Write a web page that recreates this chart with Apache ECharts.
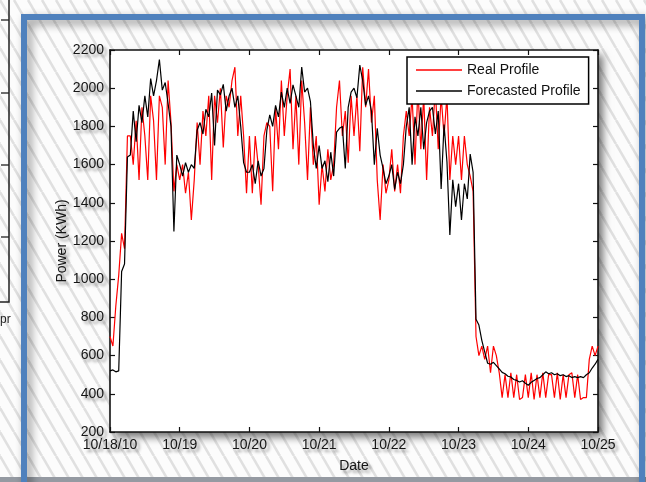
<!DOCTYPE html>
<html>
<head>
<meta charset="utf-8">
<script src="https://cdn.jsdelivr.net/npm/echarts/dist/echarts.min.js"></script>
<style>
html,body{margin:0;padding:0;background:#fff;}
#chart{width:646px;height:482px;}
</style>
</head>
<body>
<div id="chart"></div>
<script>
// Date axis tick labels, one per midnight
const dateTicks = ['10/18/10', '10/19', '10/20', '10/21', '10/22', '10/23', '10/24', '10/25'];
const powerMin = 200, powerMax = 2200, powerStep = 200;

// Measured load (KWh), hourly, one array per day (hours 0..23)
const real18 = [700, 650, 860, 1020, 1240, 1160, 1750, 1750, 1600, 1830, 1520, 1900, 1750, 1520, 1960, 1830, 1520, 1960, 1900, 1600, 2040, 1820, 1460, 1600];
const real19 = [1520, 1600, 1450, 1560, 1310, 1520, 1820, 1600, 1880, 1750, 1960, 1520, 1960, 1820, 2000, 1690, 1960, 1900, 2040, 2110, 1750, 1960, 1750, 1450];
const real20 = [1750, 1450, 1750, 1600, 1390, 1750, 1820, 1800, 1460, 1900, 1680, 2040, 1750, 1960, 2100, 1680, 1960, 1600, 2040, 1820, 1520, 1900, 1600, 1750];
const real21 = [1390, 1600, 1460, 1680, 1520, 1600, 1900, 2040, 1750, 1880, 1610, 1960, 1750, 1960, 1670, 2110, 1900, 2100, 1820, 1960, 1520, 1310, 1600, 1450];
const real22 = [1520, 1680, 1460, 1600, 1450, 1750, 1880, 1750, 1960, 1600, 2000, 1680, 1960, 1520, 1900, 1750, 2000, 1680, 1960, 1750, 1960, 1520, 1750, 1600];
const real23 = [1750, 1520, 1750, 1600, 1540, 1460, 700, 600, 650, 580, 650, 510, 650, 600, 510, 380, 500, 380, 510, 380, 500, 370, 380, 500];
const real24 = [380, 510, 370, 500, 380, 510, 380, 500, 500, 380, 510, 370, 500, 380, 500, 510, 380, 500, 370, 380, 380, 580, 650, 600];
const realEnd = 650;

// Forecasted load (KWh), hourly, one array per day (hours 0..23)
const forecast18 = [520, 525, 515, 520, 1040, 1080, 1640, 1650, 1880, 1720, 1910, 1820, 1960, 1850, 2050, 1960, 2040, 2150, 1990, 2030, 1920, 1800, 1250, 1650];
const forecast19 = [1600, 1540, 1610, 1560, 1600, 1580, 1780, 1820, 1760, 1890, 1850, 1975, 1700, 1990, 1965, 2020, 1880, 1960, 2000, 1900, 1960, 1800, 1610, 1560];
const forecast20 = [1560, 1600, 1500, 1620, 1540, 1580, 1780, 1860, 1800, 1910, 1850, 1980, 1900, 2000, 1920, 2017, 1960, 1900, 2111, 1980, 2000, 1930, 1700, 1580];
const forecast21 = [1700, 1580, 1620, 1510, 1665, 1540, 1770, 1790, 1800, 1580, 1900, 1980, 2000, 1950, 2121, 2040, 1910, 1960, 1880, 1600, 1790, 1650, 1580, 1500];
const forecast22 = [1540, 1600, 1470, 1560, 1500, 1600, 1800, 1900, 1600, 1850, 1750, 1900, 1680, 1820, 1880, 1900, 1760, 1880, 1472, 1810, 1615, 1231, 1520, 1380];
const forecast23 = [1500, 1310, 1500, 1420, 1655, 1560, 790, 760, 680, 620, 560, 555, 565, 548, 530, 512, 505, 492, 488, 475, 470, 462, 468, 455];
const forecast24 = [445, 460, 470, 480, 485, 500, 515, 505, 510, 500, 505, 495, 500, 490, 495, 485, 490, 485, 490, 485, 500, 510, 535, 555];
const forecastEnd = 580;

const realLoad = [].concat(real18, real19, real20, real21, real22, real23, real24, [realEnd]);
const forecastLoad = [].concat(forecast18, forecast19, forecast20, forecast21, forecast22, forecast23, forecast24, [forecastEnd]);
const hourMax = 24 * (dateTicks.length - 1);
const toPoints = arr => arr.map((v, h) => [h, v]);

const FONT = '"Liberation Sans", Arial, Helvetica, sans-serif';
const shadowText = {
  fontFamily: FONT, fontSize: 14, color: '#161616',
  textShadowColor: 'rgba(0,0,0,0.42)', textShadowBlur: 3,
  textShadowOffsetX: 3, textShadowOffsetY: 3
};
const axisLine = { show: true, onZero: false, lineStyle: { color: '#111', width: 1.6 } };
const axisTick = { show: true, inside: true, length: 5, lineStyle: { color: '#111', width: 1.2 } };

// Diagonal hatch used for the slide background
function hatchTile() {
  const w = 14, h = 24;
  const c = document.createElement('canvas');
  c.width = w; c.height = h;
  const g = c.getContext('2d');
  g.fillStyle = '#fcfcfc';
  g.fillRect(0, 0, w, h);
  g.strokeStyle = '#e0e0e0';
  g.lineWidth = 2.6;
  for (const k of [-1, 0, 1]) {
    g.beginPath();
    g.moveTo(k * w, 0);
    g.lineTo(k * w + w, h);
    g.stroke();
  }
  return c;
}

// Edge of the neighbouring plot on the left
const sideTicks = [20, 93, 165, 237].map(y => ({
  type: 'line', z: -90, silent: true,
  shape: { x1: 1, y1: y, x2: 9, y2: y },
  style: { stroke: '#222', lineWidth: 1.3 }
}));

const chart = echarts.init(document.getElementById('chart'), null, { renderer: 'canvas' });
chart.setOption({
  animation: false,
  backgroundColor: '#fff',
  graphic: [
    { type: 'rect', z: -100, silent: true, shape: { x: 0, y: 0, width: 646, height: 482 },
      style: { fill: { image: hatchTile(), repeat: 'repeat' } } },
    { type: 'polyline', z: -90, silent: true, shape: { points: [[9, 0], [9, 302], [0, 302]] },
      style: { stroke: '#222', lineWidth: 1.5, fill: 'none' } },
    ...sideTicks,
    { type: 'text', z: -90, silent: true,
      style: { text: 'Apr', x: -8, y: 320, font: '12px ' + FONT, fill: '#222', verticalAlign: 'middle' } },
    { type: 'rect', z: -88, silent: true, shape: { x: 0, y: 477, width: 646, height: 5 },
      style: { fill: '#959aa2' } },
    { type: 'rect', z: -80, silent: true, shape: { x: 24, y: 17, width: 618, height: 500 },
      style: { fill: 'none', stroke: '#4f81bd', lineWidth: 6,
        shadowBlur: 10, shadowColor: 'rgba(0,0,0,0.45)', shadowOffsetX: 4, shadowOffsetY: 4 } }
  ],
  grid: {
    left: 110, right: 48, top: 50, bottom: 50,
    show: true, backgroundColor: '#fff', borderWidth: 0,
    shadowColor: 'rgba(0,0,0,0.55)', shadowBlur: 8, shadowOffsetX: 5, shadowOffsetY: 5,
    outerBoundsMode: 'none'
  },
  legend: {
    orient: 'vertical', left: 407, top: 57,
    data: ['Real Profile', 'Forecasted Profile'],
    icon: 'rect',
    itemWidth: 46, itemHeight: 1.3, itemGap: 7,
    padding: [6, 8, 6, 9],
    backgroundColor: '#fff', borderColor: '#000', borderWidth: 1.5, borderRadius: 0,
    selectedMode: false,
    textStyle: { fontFamily: FONT, fontSize: 14, color: '#111', lineHeight: 14 }
  },
  xAxis: [{
    type: 'value', min: 0, max: hourMax, interval: 24,
    name: 'Date', nameLocation: 'middle', nameGap: 27, nameTextStyle: shadowText,
    nameMoveOverlap: false,
    axisLine, axisTick,
    axisLabel: Object.assign({ margin: 6, formatter: v => dateTicks[Math.round(v / 24)] }, shadowText),
    splitLine: { show: false }
  }, {
    type: 'value', position: 'top', min: 0, max: hourMax, interval: 24,
    axisLine, axisTick, axisLabel: { show: false }, splitLine: { show: false }
  }],
  yAxis: [{
    type: 'value', min: powerMin, max: powerMax, interval: powerStep,
    name: 'Power (KWh)', nameLocation: 'middle', nameGap: 41, nameRotate: 90, nameTextStyle: shadowText,
    nameMoveOverlap: false,
    axisLine, axisTick,
    axisLabel: Object.assign({ margin: 6, formatter: v => String(v) }, shadowText),
    splitLine: { show: false }
  }, {
    type: 'value', position: 'right', min: powerMin, max: powerMax, interval: powerStep,
    axisLine, axisTick, axisLabel: { show: false }, splitLine: { show: false }
  }],
  series: [{
    name: 'Real Profile', type: 'line', symbol: 'none', z: 2,
    data: toPoints(realLoad),
    lineStyle: { color: '#ff0000', width: 1.2 }, itemStyle: { color: '#ff0000' }
  }, {
    name: 'Forecasted Profile', type: 'line', symbol: 'none', z: 3,
    data: toPoints(forecastLoad),
    lineStyle: { color: '#000000', width: 1.2 }, itemStyle: { color: '#000000' }
  }]
});
</script>
</body>
</html>
